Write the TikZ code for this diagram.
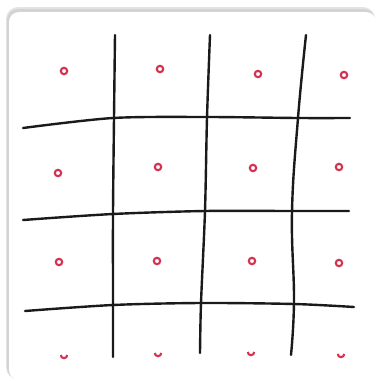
\documentclass[tikz,border=0pt]{standalone}
\definecolor{pen}{HTML}{1A1A1A}
\definecolor{dotred}{HTML}{D6304F}
\definecolor{shade}{HTML}{C8C8C8}
\tikzset{
  gridline/.style={draw=pen, line width=2.4pt, line cap=round, line join=round},
  dot/.style={draw=dotred, line width=2.1pt},
}
\begin{document}
\begin{tikzpicture}[x=1pt,y=-1pt]
\useasboundingbox (0,0) rectangle (377,381);
\fill[white] (0,0) rectangle (377,381);
% card with soft shadow on top and left
\fill[shade!50,rounded corners=12pt] (6,7) rectangle (375,379);
\fill[shade!80,rounded corners=11pt] (7,9) rectangle (375,379);
\fill[white,rounded corners=10pt] (9,12) rectangle (376,380);
% vertical lines
\draw[gridline] plot[smooth,tension=0.5] coordinates {(115,35) (114,118) (113,214) (113,305) (113,357)};
\draw[gridline] plot[smooth,tension=0.5] coordinates {(210,35) (207,118) (205,211) (201,303) (200,353)};
\draw[gridline] plot[smooth,tension=0.7] coordinates {(306,35) (298,118) (292,212) (294,300) (291,355)};
% horizontal lines
\draw[gridline] plot[smooth,tension=0.5] coordinates {(23,128) (113,118) (207,117) (298,118) (350,118)};
\draw[gridline] plot[smooth,tension=0.5] coordinates {(23,220) (113,214) (205,211) (292,211) (349,211)};
\draw[gridline] plot[smooth,tension=0.5] coordinates {(25,311) (113,305) (201,303) (294,304) (354,307)};
% red dots
\foreach \x/\y in {64/71,160/69,258/74,344/75,58/173,158/167,253/168,339/167,59/262,157/261,252/261,339/263}
  \draw[dot] (\x,\y) circle[radius=3.2];
\foreach \x/\y in {64/355,158/353,251/352,341/354}
  \draw[dot] (\x-3.2,\y) arc[start angle=180,end angle=0,radius=3.2];
\end{tikzpicture}
\end{document}
